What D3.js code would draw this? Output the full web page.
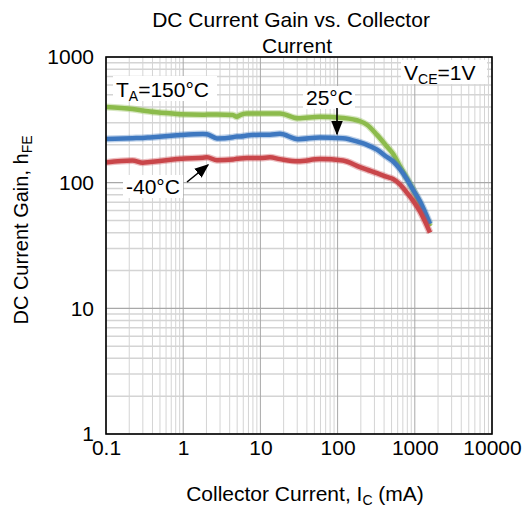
<!DOCTYPE html>
<html><head><meta charset="utf-8">
<script src="https://cdn.jsdelivr.net/npm/d3@7"></script>
<style>body{margin:0;background:#fff;} text{font-family:Arial,"Liberation Sans",sans-serif;}</style>
</head><body><svg id="c" width="524" height="508"></svg>
<script>
const xTicks = [0.1, 1, 10, 100, 1000, 10000];
const yTicks = [1, 10, 100, 1000];
const current = [0.1, 0.22, 0.3, 0.37, 0.83, 0.91, 1.8, 2.03, 2.74, 4.4, 4.93, 5.45, 6.65, 9.9, 13.3, 17.9, 30.7, 59, 117, 195, 240, 324, 436, 522, 643, 794, 948, 1167, 1573];
const gain150 = [400, 385, 375, 368, 352, 350, 347, 348, 348, 346, 334, 345, 355, 355, 355, 355, 325, 334, 327, 308, 289, 240, 194, 170, 135, 108, 88, 68, 45];
const gain25 = [223, 226, 227, 229, 238, 239, 244, 243, 225, 230, 233, 233, 237, 241, 241, 245, 222, 229, 226, 209, 200, 183, 160, 148, 128, 106, 88, 71, 47];
const gainM40 = [145, 150, 144, 146, 154, 155, 158, 159, 151, 153, 155, 156, 157, 157, 159, 154, 148, 154, 150, 133, 127, 119, 111, 107, 97, 83, 72, 59, 40];
const series = [
  {name:"150", values: gain150, color:"#8cbb4c"},
  {name:"25", values: gain25, color:"#3e78c0"},
  {name:"-40", values: gainM40, color:"#c9464a"}
];

const svg = d3.select("#c");
const L=106, R=492, T=57, B=434;
const x = d3.scaleLog().domain([0.1,10000]).range([L,R]);
const y = d3.scaleLog().domain([1,1000]).range([B,T]);
const FS = 21;

// grid
const g = svg.append("g");
const minorX=[], minorY=[];
for (let d=0.1; d<10000; d*=10) for (let k=2;k<=9;k++) minorX.push(d*k);
for (let d=1; d<1000; d*=10) for (let k=2;k<=9;k++) minorY.push(d*k);
g.selectAll(".mx").data(minorX).enter().append("line")
  .attr("x1",d=>x(d)).attr("x2",d=>x(d)).attr("y1",T).attr("y2",B)
  .attr("stroke","#d4d4d4").attr("stroke-width",1);
g.selectAll(".my").data(minorY).enter().append("line")
  .attr("y1",d=>y(d)).attr("y2",d=>y(d)).attr("x1",L).attr("x2",R)
  .attr("stroke","#d4d4d4").attr("stroke-width",1.5);
g.selectAll(".Mx").data(xTicks).enter().append("line")
  .attr("x1",d=>x(d)).attr("x2",d=>x(d)).attr("y1",T).attr("y2",B)
  .attr("stroke","#a8a8a8").attr("stroke-width",1);
g.selectAll(".My").data(yTicks).enter().append("line")
  .attr("y1",d=>y(d)).attr("y2",d=>y(d)).attr("x1",L).attr("x2",R)
  .attr("stroke","#a8a8a8").attr("stroke-width",1.2);

// lines
const line = d3.line().x((d,i)=>x(current[i])).y(d=>y(d)).curve(d3.curveMonotoneX);
series.forEach(s=>{
  svg.append("path").attr("d",line(s.values)).attr("fill","none")
    .attr("stroke",s.color).attr("stroke-width",7).attr("stroke-opacity",0.35).attr("stroke-linejoin","round");
  svg.append("path").attr("d",line(s.values)).attr("fill","none")
    .attr("stroke",s.color).attr("stroke-width",4.5).attr("stroke-linejoin","round");
});

// frame
svg.append("rect").attr("x",L).attr("y",T).attr("width",R-L).attr("height",B-T)
  .attr("fill","none").attr("stroke","#000").attr("stroke-width",1.6);

// axes
const xAxis = d3.axisBottom(x).tickValues(xTicks).tickSize(0).tickFormat(d=>String(d));
const xg = svg.append("g").attr("transform",`translate(0,${B})`).call(xAxis);
xg.select(".domain").remove();
xg.selectAll("text").attr("font-size",FS).attr("fill","#000").attr("dy",null).attr("y",21);
const yAxis = d3.axisLeft(y).tickValues(yTicks).tickSize(0).tickFormat(d=>String(d));
const yg = svg.append("g").attr("transform",`translate(${L},0)`).call(yAxis);
yg.select(".domain").remove();
yg.selectAll("text").attr("font-size",FS).attr("fill","#000").attr("x",-12);

// title
svg.append("text").attr("x",291).attr("y",27).attr("text-anchor","middle").attr("font-size",FS).text("DC Current Gain vs. Collector");
svg.append("text").attr("x",297).attr("y",53).attr("text-anchor","middle").attr("font-size",FS).text("Current");

// axis titles
const xt = svg.append("text").attr("x",305).attr("y",501).attr("text-anchor","middle").attr("font-size",FS);
xt.append("tspan").text("Collector Current, I");
xt.append("tspan").attr("font-size",14).attr("dy",4).text("C");
xt.append("tspan").attr("dy",-4).text(" (mA)");
const yt = svg.append("text").attr("transform","translate(28,230) rotate(-90)").attr("text-anchor","middle").attr("font-size",20);
yt.append("tspan").text("DC Current Gain, h");
yt.append("tspan").attr("font-size",14).attr("dy",4).text("FE");

// annotations
function label(xp, yp, parts, w, h){
  svg.append("rect").attr("x",xp-3).attr("y",yp-h+4).attr("width",w).attr("height",h).attr("fill","#fff");
  const t = svg.append("text").attr("x",xp).attr("y",yp).attr("font-size",FS);
  parts.forEach(p=>{
    const ts = t.append("tspan").text(p.t);
    if(p.sub){ ts.attr("font-size",14).attr("dy",4); }
    if(p.back){ ts.attr("dy",-4); }
  });
}
label(116,97,[{t:"T"},{t:"A",sub:true},{t:"=150°C",back:true}],104,25);
label(404,80,[{t:"V"},{t:"CE",sub:true},{t:"=1V",back:true}],86,24);
label(306,105,[{t:"25°C"}],52,23);
label(126,194,[{t:"-40°C"}],60,23);

// arrows
svg.append("defs").append("marker").attr("id","ah").attr("viewBox","0 0 10 10")
  .attr("refX",9).attr("refY",5).attr("markerWidth",9).attr("markerHeight",9).attr("orient","auto")
  .append("path").attr("d","M0,1 L10,5 L0,9 Z").attr("fill","#000");
svg.append("line").attr("x1",337).attr("y1",108).attr("x2",337).attr("y2",134)
  .attr("stroke","#000").attr("stroke-width",1.6).attr("marker-end","url(#ah)");
svg.append("line").attr("x1",187).attr("y1",182).attr("x2",208).attr("y2",165)
  .attr("stroke","#000").attr("stroke-width",1.6).attr("marker-end","url(#ah)");
</script></body></html>
